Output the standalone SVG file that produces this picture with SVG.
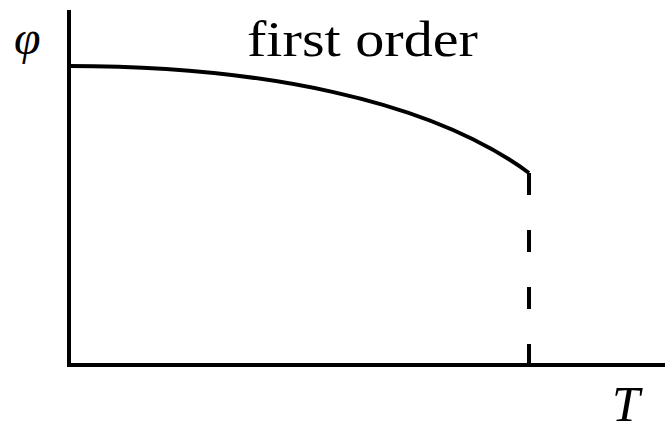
<svg xmlns="http://www.w3.org/2000/svg" width="665" height="433" viewBox="0 0 665 433">
<style>
.ax{stroke:#000;stroke-width:4;fill:none}
.lbl{font-family:"Liberation Serif",serif;fill:#000}
.it{font-style:italic}
</style>
<rect width="665" height="433" fill="#fff"/>
<g id="axes">
<path class="ax" d="M69,10 V365 H665"/>
</g>
<g id="connectors">
<path class="ax" d="M69,66 C260,66 430,100 529,173"/>
<path class="ax" d="M529,173 V365" stroke-dasharray="22 35"/>
</g>
<g id="labels">
<text class="lbl it" x="14" y="54" font-size="48" font-family="DejaVu Serif, serif">φ</text>
<text class="lbl" x="247" y="56" font-size="50" textLength="231" lengthAdjust="spacingAndGlyphs">first order</text>
<text class="lbl it" x="612" y="421" font-size="50">T</text>
</g>
</svg>
